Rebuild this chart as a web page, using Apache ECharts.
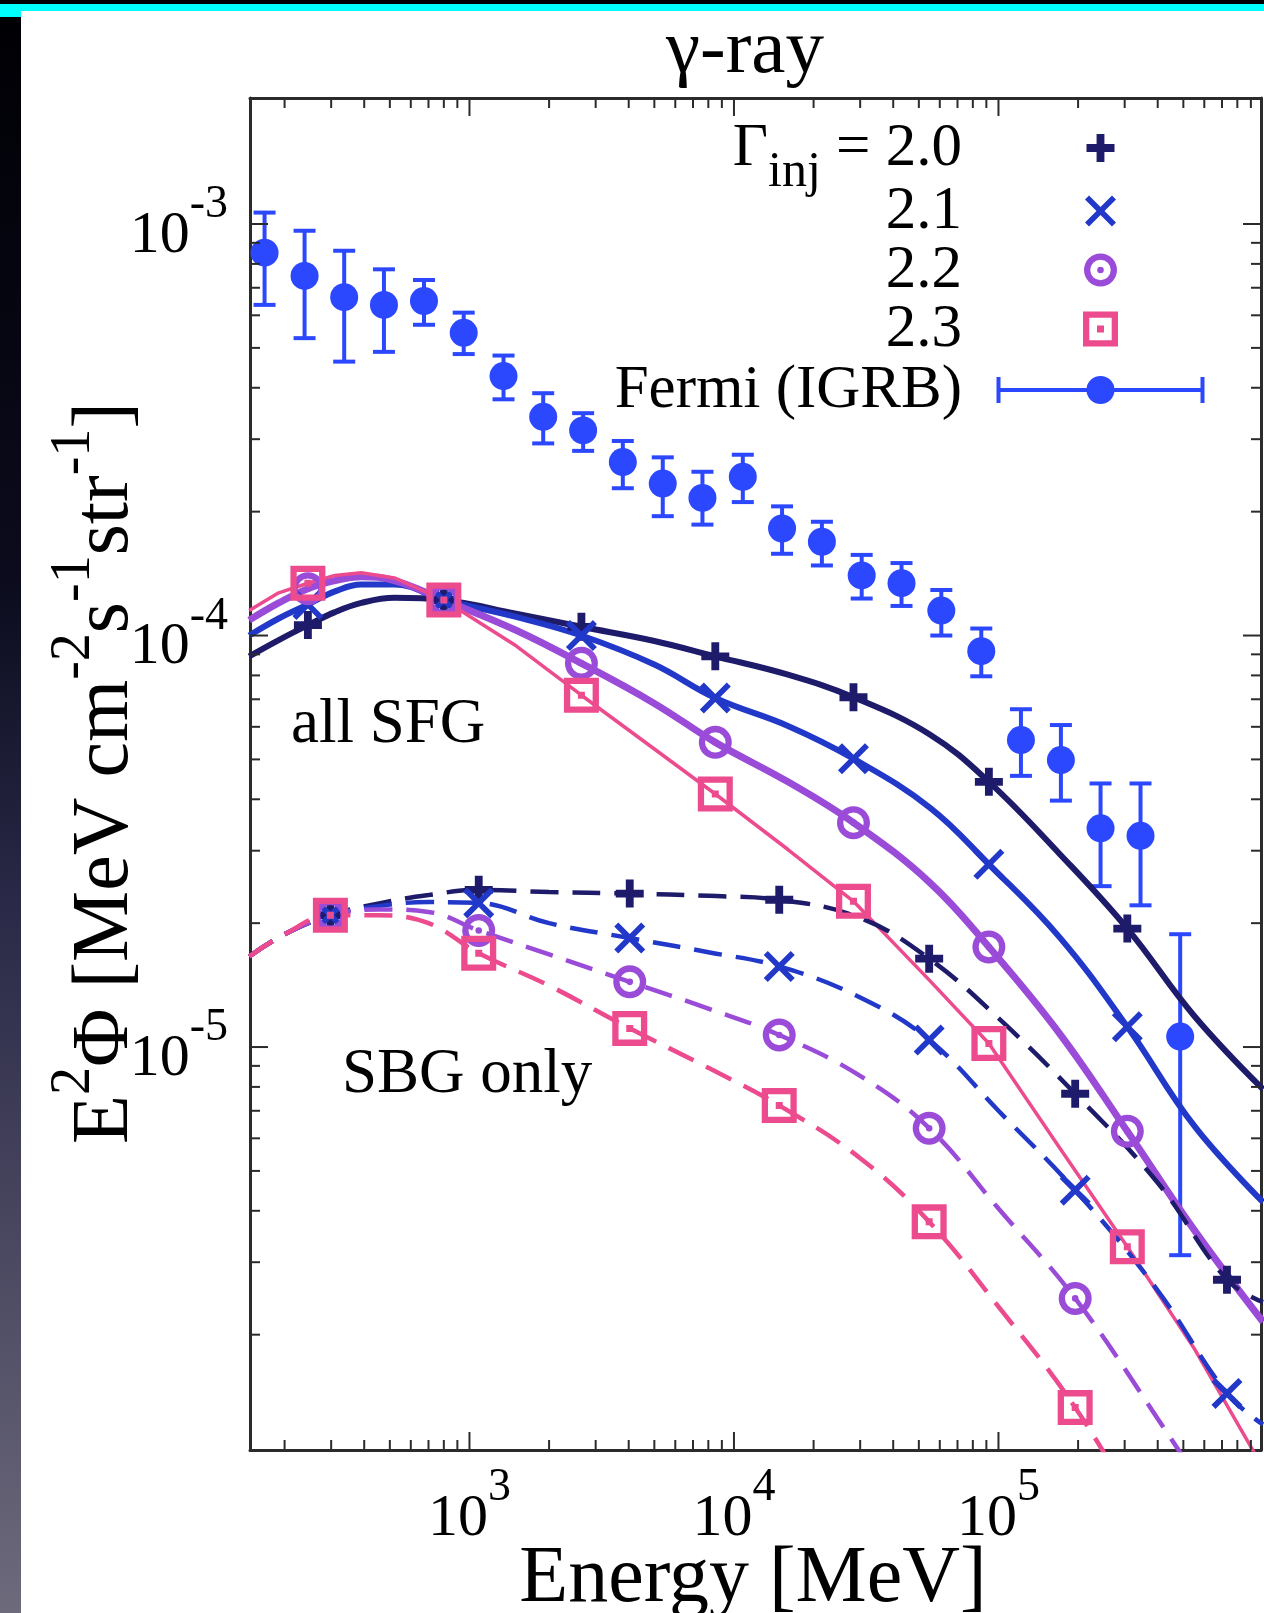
<!DOCTYPE html>
<html>
<head>
<meta charset="utf-8">
<title>γ-ray</title>
<script src="https://cdn.jsdelivr.net/npm/echarts@6/dist/echarts.min.js"></script>
<style>
  html, body { margin: 0; padding: 0; background: #fff; }
  #main { width: 1264px; height: 1613px; }
</style>
</head>
<body>
<div id="main"></div>
<script>
  'use strict';

  // ---- data ----
  // Fermi IGRB points: energy [MeV], value, lower / upper end of the error bar
  var fermiE = [168, 238, 336, 475, 673, 951, 1345, 1900, 2690, 3800, 5380, 7600,
    10800, 15200, 21500, 30400, 43000, 60800, 86100, 121600, 172200, 243200, 344400, 486400];
  var fermiV = [8.52e-4, 7.48e-4, 6.64e-4, 6.36e-4, 6.50e-4, 5.44e-4, 4.27e-4, 3.40e-4, 3.15e-4, 2.64e-4, 2.34e-4, 2.16e-4,
    2.43e-4, 1.82e-4, 1.69e-4, 1.40e-4, 1.34e-4, 1.15e-4, 9.16e-5, 5.57e-5, 4.98e-5, 3.40e-5, 3.26e-5, 1.06e-5];
  var fermiHi = [1.066e-3, 9.63e-4, 8.61e-4, 7.76e-4, 7.31e-4, 6.09e-4, 4.79e-4, 3.88e-4, 3.47e-4, 2.97e-4, 2.71e-4, 2.50e-4,
    2.75e-4, 2.06e-4, 1.89e-4, 1.57e-4, 1.50e-4, 1.29e-4, 1.04e-4, 6.62e-5, 6.06e-5, 4.37e-5, 4.37e-5, 1.88e-5];
  var fermiLo = [6.36e-4, 5.28e-4, 4.63e-4, 4.89e-4, 5.69e-4, 4.83e-4, 3.75e-4, 2.93e-4, 2.81e-4, 2.28e-4, 1.95e-4, 1.86e-4,
    2.11e-4, 1.58e-4, 1.48e-4, 1.23e-4, 1.18e-4, 1.00e-4, 7.96e-5, 4.56e-5, 3.97e-5, 2.46e-5, 2.21e-5, 3.12e-6];

  // all SFG (solid curves)
  var sfgE = [147, 190, 245, 310, 390, 520, 800, 1500, 2650, 5000, 8500, 16000, 28300, 55000, 92000, 170000, 307000, 550000, 1000000];
  var sfgMarkE = [245, 800, 2650, 8500, 28300, 92000, 307000];
  var sfg20 = [8.9e-5, 9.75e-5, 1.06e-4, 1.14e-4, 1.20e-4, 1.235e-4, 1.22e-4, 1.13e-4, 1.05e-4, 9.7e-5, 8.9e-5, 8.03e-5, 7.08e-5, 5.75e-5, 4.41e-5, 2.95e-5, 1.94e-5, 1.19e-5, 7.9e-6];
  var sfg21 = [1.0e-4, 1.1e-4, 1.19e-4, 1.28e-4, 1.33e-4, 1.33e-4, 1.22e-4, 1.11e-4, 1.0e-4, 8.5e-5, 7.05e-5, 6.03e-5, 5.02e-5, 3.82e-5, 2.78e-5, 1.85e-5, 1.12e-5, 6.43e-6, 4.2e-6];
  var sfg22 = [1.09e-4, 1.2e-4, 1.3e-4, 1.36e-4, 1.39e-4, 1.36e-4, 1.22e-4, 1.03e-4, 8.56e-5, 6.84e-5, 5.5e-5, 4.41e-5, 3.51e-5, 2.51e-5, 1.75e-5, 1.08e-5, 6.24e-6, 3.59e-6, 2.15e-6];
  var sfg23 = [1.15e-4, 1.27e-4, 1.34e-4, 1.40e-4, 1.42e-4, 1.38e-4, 1.22e-4, 9.44e-5, 7.16e-5, 5.3e-5, 4.12e-5, 3.02e-5, 2.26e-5, 1.45e-5, 1.02e-5, 5.7e-6, 3.27e-6, 1.85e-6, 9.5e-7];

  // SBG only (dashed curves)
  var sbgE = [147, 200, 298, 450, 700, 1084, 2000, 4036, 8000, 14830, 30000, 54700, 100000, 195000, 400000, 731000, 1000000];
  var sbgMarkE = [298, 1084, 4036, 14830, 54700, 195000, 731000];
  var sbg20 = [1.66e-5, 1.88e-5, 2.09e-5, 2.23e-5, 2.34e-5, 2.41e-5, 2.38e-5, 2.36e-5, 2.33e-5, 2.28e-5, 2.06e-5, 1.64e-5, 1.175e-5, 7.7e-6, 4.68e-6, 2.72e-6, 2.4e-6];
  var sbg21 = [1.66e-5, 1.88e-5, 2.09e-5, 2.2e-5, 2.25e-5, 2.24e-5, 2.0e-5, 1.84e-5, 1.70e-5, 1.57e-5, 1.32e-5, 1.04e-5, 7.0e-6, 4.49e-6, 2.56e-6, 1.44e-6, 1.21e-6];
  var sbg22 = [1.66e-5, 1.88e-5, 2.09e-5, 2.16e-5, 2.13e-5, 1.92e-5, 1.68e-5, 1.44e-5, 1.24e-5, 1.07e-5, 8.51e-6, 6.35e-6, 4.05e-6, 2.45e-6, 1.25e-6, 6.9e-7, 5.0e-7];
  var sbg23 = [1.66e-5, 1.88e-5, 2.09e-5, 2.09e-5, 2.0e-5, 1.69e-5, 1.41e-5, 1.11e-5, 8.9e-6, 7.21e-6, 5.37e-6, 3.76e-6, 2.34e-6, 1.33e-6, 6.2e-7, 3.3e-7, 2.4e-7];

  // axis ticks
  var xMajorTicks = [1e3, 1e4, 1e5];
  var xMinorTicks = [200, 300, 400, 500, 600, 700, 800, 900,
    2000, 3000, 4000, 5000, 6000, 7000, 8000, 9000,
    20000, 30000, 40000, 50000, 60000, 70000, 80000, 90000,
    200000, 300000, 400000, 500000, 600000, 700000, 800000, 900000];
  var yMajorTicks = [1e-5, 1e-4, 1e-3];
  var yMinorTicks = [2e-6, 3e-6, 4e-6, 5e-6, 6e-6, 7e-6, 8e-6, 9e-6,
    2e-5, 3e-5, 4e-5, 5e-5, 6e-5, 7e-5, 8e-5, 9e-5,
    2e-4, 3e-4, 4e-4, 5e-4, 6e-4, 7e-4, 8e-4, 9e-4];
  var xLabelPowers = [3, 4, 5];
  var yLabelPowers = [-3, -4, -5];

  // ---- styles ----
  var SERIF = '"Liberation Serif", "Times New Roman", serif';
  var X_MIN = 148, X_MAX = 983000;
  var Y_MIN = 1.049e-6, Y_MAX = 2.024e-3;
  var AXIS_COLOR = '#2b2b2b';
  var NAVY = '#1e1b6b', BLUE = '#2138c8', PURPLE = '#9a4cd8', PINK = '#ec4b8e', FERMI = '#2b48ff';

  var PLUS = 'path://M9,0h7v9h9v7h-9v9h-7v-9h-9v-7h9z';
  var CROSS = 'path://M0,13L13,0L50,37L87,0L100,13L63,50L100,87L87,100L50,63L13,100L0,87L37,50Z';
  var RING = 'path://M50,0A50,50 0 1,1 50,100A50,50 0 1,1 50,0Z M50,19A31,31 0 1,0 50,81A31,31 0 1,0 50,19Z M50,40A10,10 0 1,1 50,60A10,10 0 1,1 50,40Z';
  var SQUARE = 'path://M0,0H100V100H0Z M18,18V82H82V18Z M40,40H60V60H40Z';
  var ERRBAR = 'path://M0,12H208V16H0Z M0,1H4V27H0Z M204,1H208V27H204Z M104,0A14,14 0 1,1 104,28A14,14 0 1,1 104,0Z';

  var SIZE_PLUS = 28, SIZE_CROSS = 31, SIZE_RING = 33, SIZE_SQUARE = 35;

  var myChart = echarts.init(document.getElementById('main'), null, { renderer: 'canvas' });

  function curveData(E, V, markE, symbol, size) {
    return E.map(function (e, i) {
      var item = { value: [e, V[i]] };
      if (markE.indexOf(e) >= 0 && V[i] >= Y_MIN) {
        item.symbol = symbol;
        item.symbolSize = size;
      } else {
        item.symbol = 'none';
      }
      return item;
    });
  }

  function lineSeries(name, data, color, width, dashed, smooth) {
    return {
      name: name,
      type: 'line',
      data: data,
      smooth: smooth,
      showAllSymbol: true,
      clip: true,
      silent: true,
      z: 3,
      lineStyle: { color: color, width: width, type: dashed ? [28, 14] : 'solid' },
      itemStyle: { color: color, borderWidth: 0 },
      emphasis: { disabled: true }
    };
  }

  function renderXTick(params, api) {
    var cs = params.coordSys;
    var x = api.coord([api.value(0), Y_MIN])[0];
    var len = api.value(2);
    var st = { stroke: AXIS_COLOR, lineWidth: 2 };
    return {
      type: 'group',
      children: [
        { type: 'line', shape: { x1: x, y1: cs.y + cs.height, x2: x, y2: cs.y + cs.height - len }, style: st },
        { type: 'line', shape: { x1: x, y1: cs.y, x2: x, y2: cs.y + len }, style: st }
      ]
    };
  }

  function renderYTick(params, api) {
    var cs = params.coordSys;
    var y = api.coord([X_MIN, api.value(1)])[1];
    var len = api.value(2);
    var st = { stroke: AXIS_COLOR, lineWidth: 2 };
    return {
      type: 'group',
      children: [
        { type: 'line', shape: { x1: cs.x, y1: y, x2: cs.x + len, y2: y }, style: st },
        { type: 'line', shape: { x1: cs.x + cs.width, y1: y, x2: cs.x + cs.width - len, y2: y }, style: st }
      ]
    };
  }

  function renderErrorBar(params, api) {
    var top = api.coord([api.value(0), api.value(2)]);
    var bot = api.coord([api.value(0), api.value(1)]);
    var half = 11;
    var st = { stroke: FERMI, lineWidth: 4 };
    return {
      type: 'group',
      children: [
        { type: 'line', shape: { x1: top[0], y1: top[1], x2: bot[0], y2: bot[1] }, style: st },
        { type: 'line', shape: { x1: top[0] - half, y1: top[1], x2: top[0] + half, y2: top[1] }, style: st },
        { type: 'line', shape: { x1: bot[0] - half, y1: bot[1], x2: bot[0] + half, y2: bot[1] }, style: st }
      ]
    };
  }

  function powLabel(powers) {
    return function (v) {
      var p = Math.log10(v);
      var r = Math.round(p);
      if (Math.abs(p - r) > 1e-6 || powers.indexOf(r) < 0) {
        return '';
      }
      return '{b|10}{s|' + r + '}';
    };
  }

  var labelRich = {
    b: { fontSize: 60, lineHeight: 84, verticalAlign: 'bottom', fontFamily: SERIF, color: '#000' },
    s: { fontSize: 46, lineHeight: 34, verticalAlign: 'top', fontFamily: SERIF, color: '#000' }
  };

  function frameAxis(position, type, min, max) {
    return {
      type: type,
      position: position,
      min: min,
      max: max,
      axisLine: { show: true, onZero: false, lineStyle: { color: AXIS_COLOR, width: 3 } },
      axisTick: { show: false },
      splitLine: { show: false },
      axisLabel: { show: false }
    };
  }

  var xBottom = frameAxis('bottom', 'log', X_MIN, X_MAX);
  xBottom.axisLabel = { show: true, formatter: powLabel(xLabelPowers), margin: 15, rich: labelRich };
  var yLeft = frameAxis('left', 'log', Y_MIN, Y_MAX);
  yLeft.axisLabel = { show: true, formatter: powLabel(yLabelPowers), margin: 22, rich: labelRich };

  // legend rows: marker centre at x 1100, text right edge at x 962
  var legendRows = [
    { name: '2.0', icon: PLUS, color: NAVY, w: SIZE_PLUS, h: SIZE_PLUS, top: 118 },
    { name: '2.1', icon: CROSS, color: BLUE, w: SIZE_CROSS, h: SIZE_CROSS, top: 181 },
    { name: '2.2', icon: RING, color: PURPLE, w: SIZE_RING, h: SIZE_RING, top: 240 },
    { name: '2.3', icon: SQUARE, color: PINK, w: SIZE_SQUARE, h: SIZE_SQUARE, top: 299 },
    { name: 'Fermi (IGRB)', icon: ERRBAR, color: FERMI, w: 208, h: 28, top: 360 }
  ];
  var legends = legendRows.map(function (r) {
    var iconLeft = 1100.5 - r.w / 2;
    return {
      data: [{ name: r.name, icon: r.icon, itemStyle: { color: r.color, borderWidth: 0 } }],
      orient: 'vertical',
      align: 'right',
      right: 1264 - (iconLeft + r.w),
      top: r.top,
      padding: 0,
      itemWidth: r.w,
      itemHeight: r.h,
      selectedMode: false,
      formatter: function (name) {
        if (name === '2.0') {
          return '{g|Γ}{i|inj}{g| = 2.0}';
        }
        return '{g|' + name + '}';
      },
      textStyle: {
        color: '#000',
        fontFamily: SERIF,
        fontSize: 61,
        lineHeight: 60,
        padding: [0, iconLeft - 5 - 962, 0, 0],
        rich: {
          g: { fontSize: 61, lineHeight: 60, verticalAlign: 'top', fontFamily: SERIF, color: '#000' },
          i: { fontSize: 50, lineHeight: 46, padding: [30, 0, 0, 0], verticalAlign: 'top', fontFamily: SERIF, color: '#000' }
        }
      }
    };
  });

  var option = {
    animation: false,
    backgroundColor: '#fff',
    textStyle: { fontFamily: SERIF },
    grid: { left: 250, top: 98, right: 1, bottom: 163 },
    xAxis: [xBottom, frameAxis('top', 'log', X_MIN, X_MAX)],
    yAxis: [yLeft, frameAxis('right', 'log', Y_MIN, Y_MAX)],
    legend: legends,
    graphic: [
      { type: 'rect', z: -10, silent: true, shape: { x: 0, y: 0, width: 1264, height: 4 }, style: { fill: '#000' } },
      { type: 'rect', z: -10, silent: true, shape: { x: 0, y: 4, width: 1264, height: 7 }, style: { fill: '#00ffff' } },
      { type: 'rect', z: -10, silent: true, shape: { x: 0, y: 11, width: 21, height: 6 }, style: { fill: '#00ffff' } },
      {
        type: 'rect', z: -10, silent: true,
        shape: { x: 0, y: 17, width: 21, height: 1596 },
        style: {
          fill: {
            type: 'linear', x: 0, y: 0, x2: 0, y2: 1,
            colorStops: [
              { offset: 0, color: '#000004' },
              { offset: 0.35, color: '#0b0b1d' },
              { offset: 0.55, color: '#292846' },
              { offset: 1, color: '#6d6a7c' }
            ]
          }
        }
      },
      {
        type: 'text', x: 745, y: 52, silent: true,
        style: { text: 'γ-ray', fontSize: 77, fontFamily: SERIF, fill: '#000', align: 'center', verticalAlign: 'middle' }
      },
      {
        type: 'text', x: 291, y: 725, silent: true,
        style: { text: 'all SFG', fontSize: 63, fontFamily: SERIF, fill: '#000', align: 'left', verticalAlign: 'middle' }
      },
      {
        type: 'text', x: 342, y: 1075, silent: true,
        style: { text: 'SBG only', fontSize: 63, fontFamily: SERIF, fill: '#000', align: 'left', verticalAlign: 'middle' }
      },
      {
        type: 'text', x: 753, y: 1580, silent: true,
        style: { text: 'Energy [MeV]', fontSize: 80, fontFamily: SERIF, fill: '#000', align: 'center', verticalAlign: 'middle' }
      },
      {
        type: 'text', x: 96, y: 773, rotation: Math.PI / 2, silent: true,
        style: {
          text: '{m|E}{s|2}{m|Φ [MeV cm}{s|-2}{m|s}{s|-1}{m|str}{s|-1}{m|]}',
          align: 'center',
          verticalAlign: 'middle',
          fill: '#000',
          rich: {
            m: { fontSize: 80, lineHeight: 100, verticalAlign: 'bottom', fontFamily: SERIF, fill: '#000' },
            s: { fontSize: 56, lineHeight: 46, verticalAlign: 'top', fontFamily: SERIF, fill: '#000' }
          }
        }
      }
    ],
    series: [
      {
        type: 'custom', silent: true, z: 5,
        renderItem: renderXTick,
        encode: { x: 0, y: 1 },
        data: xMinorTicks.map(function (v) { return [v, Y_MIN, 10]; })
          .concat(xMajorTicks.map(function (v) { return [v, Y_MIN, 18]; }))
      },
      {
        type: 'custom', silent: true, z: 5,
        renderItem: renderYTick,
        encode: { x: 0, y: 1 },
        data: yMinorTicks.map(function (v) { return [X_MIN, v, 10]; })
          .concat(yMajorTicks.map(function (v) { return [X_MIN, v, 18]; }))
      },
      {
        name: 'Fermi (IGRB)', type: 'custom', silent: true, z: 2,
        renderItem: renderErrorBar,
        encode: { x: 0, y: [1, 2] },
        data: fermiE.map(function (e, i) { return [e, fermiLo[i], fermiHi[i]]; })
      },
      {
        name: 'Fermi (IGRB)', type: 'scatter', silent: true, z: 2,
        symbol: 'circle', symbolSize: 28,
        itemStyle: { color: FERMI, opacity: 1 },
        data: fermiE.map(function (e, i) { return [e, fermiV[i]]; })
      },
      lineSeries('2.0', curveData(sfgE, sfg20, sfgMarkE, PLUS, SIZE_PLUS), NAVY, 6, false, 0.4),
      lineSeries('2.1', curveData(sfgE, sfg21, sfgMarkE, CROSS, SIZE_CROSS), BLUE, 6, false, 0.4),
      lineSeries('2.2', curveData(sfgE, sfg22, sfgMarkE, RING, SIZE_RING), PURPLE, 7, false, 0.4),
      lineSeries('2.3', curveData(sfgE, sfg23, sfgMarkE, SQUARE, SIZE_SQUARE), PINK, 3.5, false, false),
      lineSeries('2.0', curveData(sbgE, sbg20, sbgMarkE, PLUS, SIZE_PLUS), NAVY, 4.5, true, 0.4),
      lineSeries('2.1', curveData(sbgE, sbg21, sbgMarkE, CROSS, SIZE_CROSS), BLUE, 4.5, true, 0.4),
      lineSeries('2.2', curveData(sbgE, sbg22, sbgMarkE, RING, SIZE_RING), PURPLE, 4.5, true, 0.4),
      lineSeries('2.3', curveData(sbgE, sbg23, sbgMarkE, SQUARE, SIZE_SQUARE), PINK, 4.5, true, 0.4)
    ]
  };

  myChart.setOption(option);
</script>
</body>
</html>
